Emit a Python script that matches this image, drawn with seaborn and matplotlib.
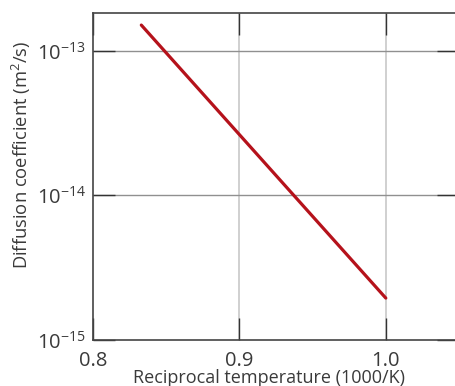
import matplotlib
matplotlib.use("Agg")
import matplotlib.pyplot as plt
import seaborn as sns
import pandas as pd
import numpy as np

recip_temp = [0.833, 1.0]
diff_coef = [1.51e-13, 1.95e-15]
x_ticks = [0.8, 0.9, 1.0]
y_ticks = [1e-15, 1e-14, 1e-13]

sns.set_style("white")
plt.rcParams['font.family'] = ['Open Sans', 'DejaVu Sans']
plt.rcParams['mathtext.fontset'] = 'custom'
plt.rcParams['mathtext.rm'] = 'Open Sans'
plt.rcParams['mathtext.it'] = 'Open Sans:italic'
plt.rcParams['mathtext.bf'] = 'Open Sans:bold'

fig = plt.figure(figsize=(4.55, 3.86), dpi=100)
ax = fig.add_axes([93/455, 46/386, (459-93)/455, (340-13)/386])

df = pd.DataFrame({"x": recip_temp, "y": diff_coef})
sns.lineplot(data=df, x="x", y="y", ax=ax, color="#B5121B", linewidth=2.3)

ax.set_yscale("log")
ax.set_xlim(0.8, 1.05)
ax.set_ylim(1e-15, 1.83e-13)
ax.set_xticks(x_ticks)
ax.set_xticklabels(["0.8", "0.9", "1.0"])
ax.set_yticks(y_ticks)
ax.yaxis.set_minor_locator(matplotlib.ticker.NullLocator())

for xv in x_ticks[1:]:
    ax.axvline(xv, color="#c8c8c8", lw=1.2, zorder=0)
for yv in y_ticks[1:]:
    ax.axhline(yv, color="#909090", lw=1.0, zorder=0)

ax.tick_params(axis="both", which="major", direction="in", length=15.5, width=1.0,
               color="#333333", labelcolor="#3a3a3a",
               top=True, right=True, bottom=True, left=True)
ax.tick_params(axis="x", pad=8, labelsize=14.5)
ax.tick_params(axis="y", pad=5, labelsize=14.5)
for s in ax.spines.values():
    s.set_color("#444444")
    s.set_linewidth(1.2)

ax.set_xlabel("Reciprocal temperature (1000/K)", fontsize=13, color="#3a3a3a")
ax.set_ylabel("Diffusion coefficient (m$^2$/s)", fontsize=13.2, color="#3a3a3a")
ax.xaxis.set_label_coords(0.481, -0.089)
ax.yaxis.set_label_coords(-0.164, 0.566)

fig.savefig("out.png", dpi=100)
